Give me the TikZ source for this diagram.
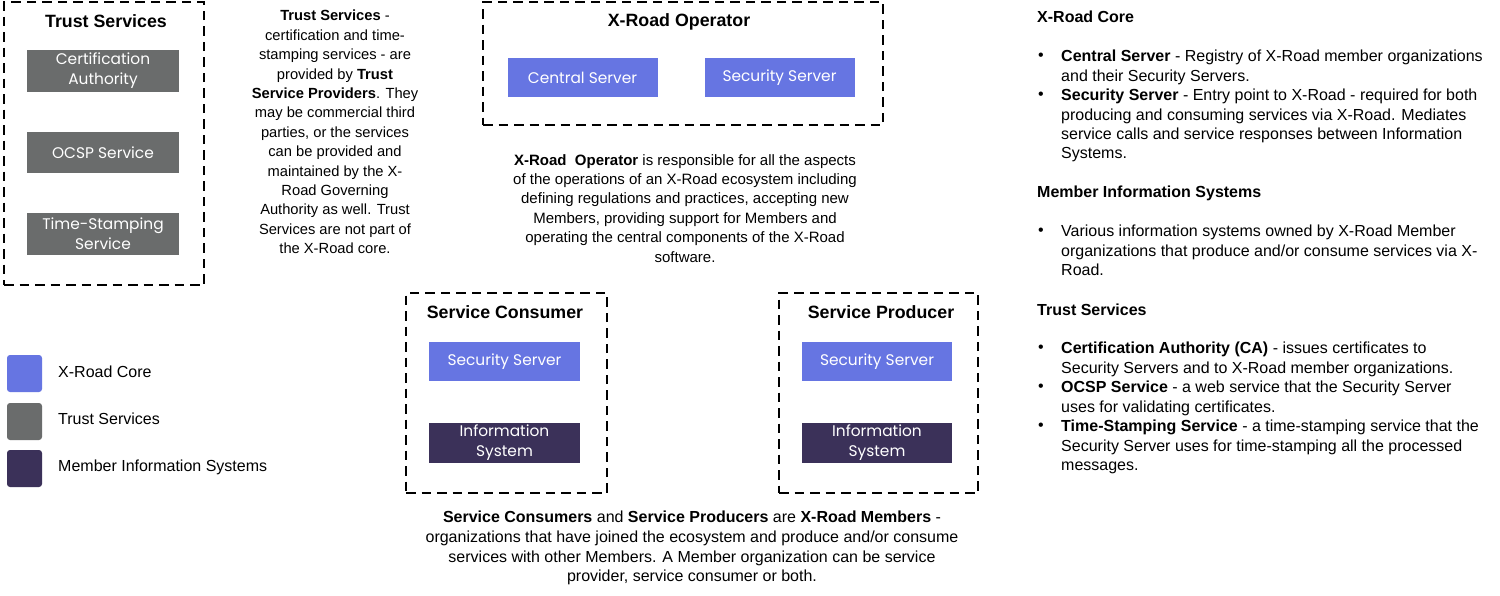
\documentclass[tikz,border=0pt]{standalone}
\usepackage{fontspec}
\setmainfont{Liberation Sans}
\newfontfamily\boxfont{Poppins}
\definecolor{core}{RGB}{102,117,226}
\definecolor{trust}{RGB}{106,108,108}
\definecolor{member}{RGB}{59,49,89}
\begin{document}
\begin{tikzpicture}[x=1pt,y=-1pt,
  grp/.style={draw=black, line width=2.6pt, dash pattern=on 9.5pt off 6pt, inner sep=0pt},
  comp/.style={minimum width=151pt, minimum height=40pt, inner sep=0pt, text=white,
    font=\boxfont\fontsize{15.4}{20}\selectfont, align=center},
  corebox/.style={comp, fill=core},
  trustbox/.style={comp, fill=trust},
  memberbox/.style={comp, fill=member},
  gtitle/.style={font=\bfseries\fontsize{17.8}{20}\selectfont, inner sep=0pt},
  desc/.style={font=\fontsize{14.7}{19.4}\selectfont, align=center, inner sep=0pt, anchor=north},
  opdescs/.style={font=\fontsize{15}{19.4}\selectfont, align=center, inner sep=0pt, anchor=north},
  bigdesc/.style={font=\fontsize{16}{19.7}\selectfont, align=center, inner sep=0pt, anchor=north},
  head/.style={font=\bfseries\fontsize{16}{19.4}\selectfont, inner sep=0pt, anchor=west},
  itemtxt/.style={font=\fontsize{16}{19.4}\selectfont, align=left, inner sep=0pt, anchor=north west},
  bul/.style={font=\fontsize{16}{19.4}\selectfont, inner sep=0pt, anchor=center},
  legsq/.style={minimum width=35pt, minimum height=37pt, inner sep=0pt, rounded corners=3pt},
  legtxt/.style={font=\fontsize{16}{19.4}\selectfont, inner sep=0pt, anchor=west}
]
\useasboundingbox[fill=white] (0,0) rectangle (1500,595);

% Trust Services group
\node[grp, minimum width=200pt, minimum height=283pt] (tsg) at (104,143.5) {};
\node[gtitle] (tst) at (106,21) {Trust Services};
\node[trustbox, minimum width=152pt, minimum height=42pt] (ca) at (103,71) {Certification\\Authority};
\node[trustbox, minimum width=152pt, minimum height=41pt] (ocsp) at (103,152.5) {OCSP Service};
\node[trustbox, minimum width=152pt, minimum height=42pt] (tss) at (103,234) {Time-Stamping\\Service};

\node[desc] (tsdesc) at (335,10) {\textbf{Trust Services} -\\certification and time-\\stamping services - are\\provided by \textbf{Trust}\\\textbf{Service Providers}. They\\may be commercial third\\parties, or the services\\can be provided and\\maintained by the X-\\Road Governing\\Authority as well. Trust\\Services are not part of\\the X-Road core.};

% X-Road Operator group
\node[grp, minimum width=400pt, minimum height=123pt] (opg) at (683,63.5) {};
\node[gtitle] (opt) at (679,22) {X-Road Operator};
\node[corebox, minimum width=150pt, minimum height=39pt] (cs) at (582.5,77.5) {Central Server};
\node[corebox, minimum width=150pt, minimum height=39pt] (ss) at (779.5,77.5) {Security Server};

\node[opdescs] (opdesc) at (685,154) {\textbf{X-Road\ \ Operator} is responsible for all the aspects\\of the operations of an X-Road ecosystem including\\defining regulations and practices, accepting new\\Members, providing support for Members and\\operating the central components of the X-Road\\software.};

% Service Consumer group
\node[grp, minimum width=201pt, minimum height=200pt] (scg) at (506.5,393) {};
\node[gtitle] (sct) at (505,312) {Service Consumer};
\node[corebox, minimum height=39pt] (scss) at (504.5,361.5) {Security Server};
\node[memberbox, minimum height=40pt] (scis) at (504.5,443) {Information\\System};

% Service Producer group
\node[grp, minimum width=199pt, minimum height=200pt] (spg) at (878.5,393) {};
\node[gtitle] (spt) at (881,312) {Service Producer};
\node[corebox, minimum width=150pt, minimum height=39pt] (spss) at (877,361.5) {Security Server};
\node[memberbox, minimum width=150pt, minimum height=40pt] (spis) at (877,443) {Information\\System};

\node[bigdesc] (mdesc) at (692,511) {\textbf{Service Consumers} and \textbf{Service Producers} are \textbf{X-Road Members} -\\organizations that have joined the ecosystem and produce and/or consume\\services with other Members. A Member organization can be service\\provider, service consumer or both.};

% Legend
\node[legsq, fill=core] (lg1) at (24.5,373.5) {};
\node[legsq, fill=trust] (lg2) at (24.5,421.5) {};
\node[legsq, fill=member] (lg3) at (24.5,468.5) {};
\node[legtxt] (lt1) at (58,372) {X-Road Core};
\node[legtxt] (lt2) at (58,419) {Trust Services};
\node[legtxt] (lt3) at (58,467) {Member Information Systems};

% Right column
\node[head] (h1) at (1037,17) {X-Road Core};
\node[bul] (b1) at (1041,57) {•};
\node[itemtxt] (i1) at (1061,50) {\textbf{Central Server} - Registry of X-Road member organizations\\and their Security Servers.};
\node[bul] (b2) at (1041,96) {•};
\node[itemtxt] (i2) at (1061,89) {\textbf{Security Server} - Entry point to X-Road - required for both\\producing and consuming services via X-Road. Mediates\\service calls and service responses between Information\\Systems.};

\node[head] (h2) at (1037,193) {Member Information Systems};
\node[bul] (b3) at (1041,232) {•};
\node[itemtxt] (i3) at (1061,225) {Various information systems owned by X-Road Member\\organizations that produce and/or consume services via X-\\Road.};

\node[head] (h3) at (1037,310) {Trust Services};
\node[bul] (b4) at (1041,349) {•};
\node[itemtxt] (i4) at (1061,342) {\textbf{Certification Authority (CA)} - issues certificates to\\Security Servers and to X-Road member organizations.};
\node[bul] (b5) at (1041,388) {•};
\node[itemtxt] (i5) at (1061,381) {\textbf{OCSP Service} - a web service that the Security Server\\uses for validating certificates.};
\node[bul] (b6) at (1041,427) {•};
\node[itemtxt] (i6) at (1061,420) {\textbf{Time-Stamping Service} - a time-stamping service that the\\Security Server uses for time-stamping all the processed\\messages.};
\end{tikzpicture}
\end{document}
